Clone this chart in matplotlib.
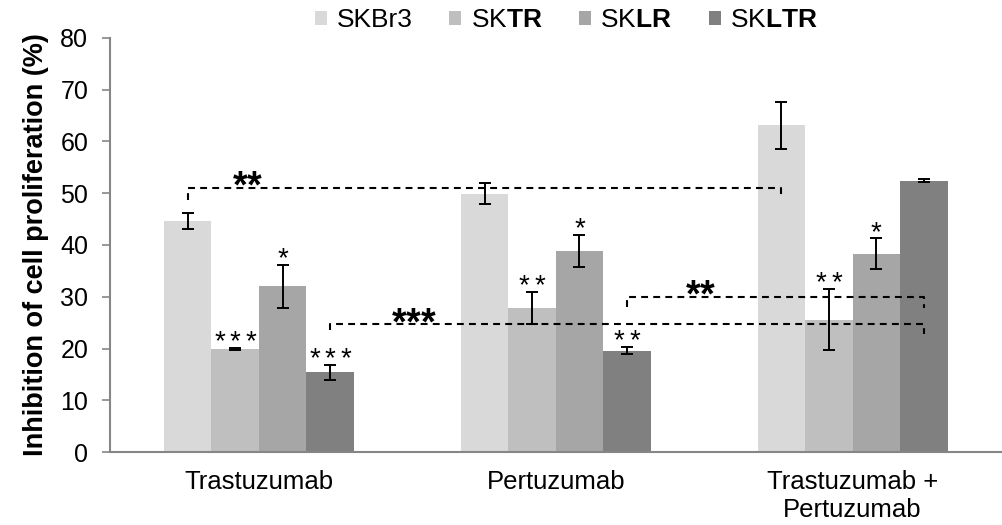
import matplotlib
matplotlib.use("Agg")
import matplotlib.pyplot as plt
import numpy as np

plt.rcParams['font.family'] = ['Liberation Sans', 'DejaVu Sans']
plt.rcParams['mathtext.fontset'] = 'custom'
plt.rcParams['mathtext.rm'] = 'Liberation Sans'
plt.rcParams['mathtext.bf'] = 'Liberation Sans:bold'

categories = ["Trastuzumab", "Pertuzumab", "Trastuzumab +\nPertuzumab"]
series_names = ["SKBr3", r"SK$\mathbf{TR}$", r"SK$\mathbf{LR}$", r"SK$\mathbf{LTR}$"]
keys = ["SKBr3", "SKTR", "SKLR", "SKLTR"]
values = {
    "SKBr3": [44.6, 49.9, 63.1],
    "SKTR": [19.9, 27.8, 25.6],
    "SKLR": [32.0, 38.8, 38.3],
    "SKLTR": [15.4, 19.6, 52.4],
}
errors = {
    "SKBr3": [1.5, 2.0, 4.5],
    "SKTR": [0.2, 3.1, 5.9],
    "SKLR": [4.1, 3.1, 3.0],
    "SKLTR": [1.5, 0.7, 0.3],
}
stars = {
    "SKBr3": [0, 0, 0],
    "SKTR": [3, 2, 2],
    "SKLR": [1, 1, 1],
    "SKLTR": [3, 2, 0],
}
colors = ["#D9D9D9", "#BFBFBF", "#A6A6A6", "#808080"]
yticks = [0, 10, 20, 30, 40, 50, 60, 70, 80]

fig = plt.figure(figsize=(10.03, 5.25), dpi=100)
ax = fig.add_axes([110.5/1003, 1-452/525, (1001-110.5)/1003, (452-38)/525])

x = np.arange(len(categories))
w = 0.16
offsets = [-1.5*w, -0.5*w, 0.5*w, 1.5*w]
centers = {}

STAR_FS = 20
STAR_SP = 11.0  # points between star centers

def star_group(xc, ycenter, n, fs, bold=False, sp=STAR_SP):
    for m in range(n):
        dx = (m - (n - 1) / 2) * sp
        ax.annotate("*", xy=(xc, ycenter), xytext=(dx, -0.575 * fs),
                    textcoords='offset points', ha='center', va='baseline',
                    fontsize=fs, fontweight='bold' if bold else 'normal',
                    color='black', zorder=5, annotation_clip=False)

for i, k in enumerate(keys):
    xs = x + offsets[i]
    centers[k] = xs
    ax.bar(xs, values[k], width=w, color=colors[i], label=series_names[i], zorder=2)
    ax.errorbar(xs, values[k], yerr=errors[k], fmt='none', ecolor='black',
                elinewidth=1.4, capsize=4.2, capthick=1.4, zorder=3)
    for j in range(len(categories)):
        if stars[k][j]:
            star_group(xs[j], values[k][j] + errors[k][j] + 2.8, stars[k][j], STAR_FS)

def bracket(x1, x2, y, y1, y2, n, lx, ly):
    ax.plot([x1, x1, x2, x2], [y1, y, y, y2], color='black', lw=1.5,
            linestyle=(0, (3.3, 2.5)), zorder=4)
    star_group(lx, ly, n, 27, bold=True, sp=10.5)

bracket(centers["SKBr3"][0], centers["SKBr3"][2], 51.0, 48.7, 49.0, 2, -0.04, 53.3)
bracket(centers["SKLTR"][0], centers["SKLTR"][2], 24.8, 23.6, 22.8, 3, 0.52, 26.9)
bracket(centers["SKLTR"][1], centers["SKLTR"][2], 30.0, 28.1, 27.8, 2, 1.487, 32.3)

ax.set_ylim(0, 80)
ax.set_xlim(-0.5, 2.5)
ax.set_yticks(yticks)
ax.set_xticks(x)
ax.set_xticklabels(categories, fontsize=18.5, linespacing=1.2)
ax.tick_params(axis='y', labelsize=18, length=5.5, width=1.2, color='#868686', pad=10.5)
ax.tick_params(axis='x', length=0, pad=13)
for s in ['top', 'right']:
    ax.spines[s].set_visible(False)
for s in ['left', 'bottom']:
    ax.spines[s].set_color('#868686')
    ax.spines[s].set_linewidth(1.5)
ax.set_ylabel("Inhibition of cell proliferation (%)", fontsize=19.5, fontweight='bold', labelpad=8)

leg = fig.legend(loc='upper center', bbox_to_anchor=(0.565, 1.03), ncol=4, frameon=False,
                 fontsize=19, handlelength=0.45, handleheight=0.45, handletextpad=0.35,
                 columnspacing=1.4)

fig.savefig("out.png", dpi=100)
